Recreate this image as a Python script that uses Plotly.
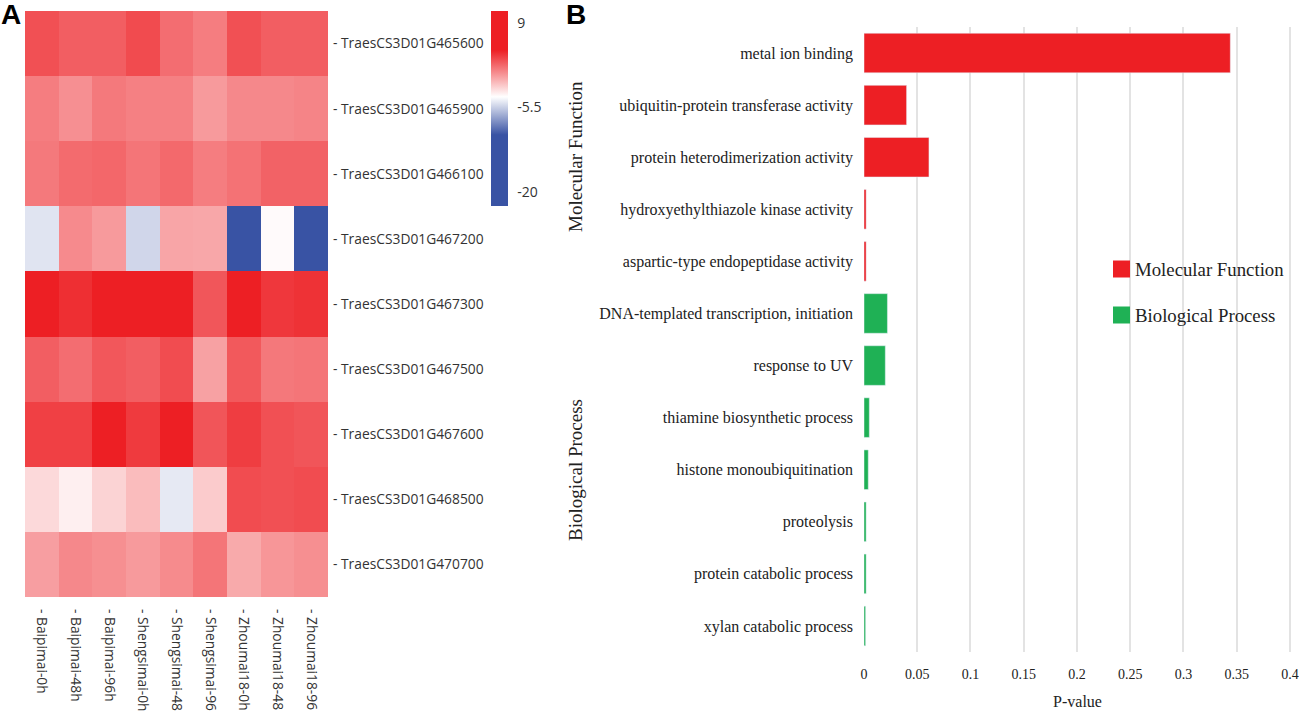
import plotly.graph_objects as go

# ---------- heatmap data (panel A) ----------
genes = ['TraesCS3D01G465600', 'TraesCS3D01G465900', 'TraesCS3D01G466100',
         'TraesCS3D01G467200', 'TraesCS3D01G467300', 'TraesCS3D01G467500',
         'TraesCS3D01G467600', 'TraesCS3D01G468500', 'TraesCS3D01G470700']
samples = ['Baipimai-0h', 'Baipimai-48h', 'Baipimai-96h',
           'Shengsimai-0h', 'Shengsimai-48', 'Shengsimai-96',
           'Zhoumai18-0h', 'Zhoumai18-48', 'Zhoumai18-96']
expr = [
    [2.6, 2.1, 2.1, 2.8, 1.56, 1.0, 2.6, 2.1, 2.1],
    [1.0, 0.35, 1.15, 0.9, 0.9, -0.05, 0.6, 0.6, 0.75],
    [1.15, 1.64, 1.8, 1.3, 1.72, 1.0, 1.4, 1.96, 1.96],
    [-4.7, 0.52, -0.05, -5.2, -0.45, -0.5, -20, -3.5, -20],
    [8.2, 3.8, 9, 8.5, 8.8, 2.4, 9, 3.5, 3.7],
    [2.1, 1.56, 2.36, 2.1, 2.76, -0.3, 2.3, 1.16, 1.3],
    [3.2, 3.2, 6, 3.4, 7, 2.44, 3.3, 2.6, 2.44],
    [-2.3, -3.1, -2.1, -1.25, -4.5, -1.8, 2.76, 2.6, 2.76],
    [-0.2, 0.6, 0.36, -0.05, 0.5, 1.3, -0.6, 0.1, 0.36],
]
cbar_ticks = [9, -5.5, -20]
cbar_labels = ['9', '-5.5', '-20']

# ---------- bar data (panel B) ----------
terms = ['metal ion binding', 'ubiquitin-protein transferase activity',
         'protein heterodimerization activity', 'hydroxyethylthiazole kinase activity',
         'aspartic-type endopeptidase activity', 'DNA-templated transcription, initiation',
         'response to UV', 'thiamine biosynthetic process', 'histone monoubiquitination',
         'proteolysis', 'protein catabolic process', 'xylan catabolic process']
mf_vals = [0.344, 0.04, 0.061, 0.002, 0.002]
bp_vals = [0.022, 0.02, 0.005, 0.004, 0.002, 0.002, 0.0015]
p_ticks = [0, 0.05, 0.1, 0.15, 0.2, 0.25, 0.3, 0.35, 0.4]
p_labels = ['0', '0.05', '0.1', '0.15', '0.2', '0.25', '0.3', '0.35', '0.4']

W, H = 1299, 714
RED = '#ed1f24'
GREEN = '#1fb155'
SERIF = 'Liberation Serif'
SANS = 'Open Sans'

def px(x):
    return x / W

def py(y):
    return 1 - y / H

fig = go.Figure()

# heatmap, colours go blue -> white -> red like the bar on the right
fig.add_trace(go.Heatmap(
    z=expr, x=samples, y=genes, xgap=0, ygap=0,
    zmin=-22.4, zmax=11.06,
    colorscale=[[0, '#3953a4'], [0.365, '#3953a4'], [0.56, '#ffffff'],
                [0.8, RED], [1, RED]],
    colorbar=dict(x=px(491), xanchor='left', y=py(11), yanchor='top', ypad=0, xpad=0,
                  len=195, lenmode='pixels', thickness=17, thicknessmode='pixels',
                  outlinewidth=0, tickvals=cbar_ticks, ticktext=cbar_labels,
                  ticks='outside', ticklen=7, tickcolor='rgba(0,0,0,0)',
                  tickfont=dict(family=SANS, size=14, color='#333333')),
    xaxis='x', yaxis='y',
))

fig.add_trace(go.Bar(x=mf_vals, y=terms[:5], orientation='h', marker_color=RED,
                     width=0.76, name='Molecular Function', xaxis='x2', yaxis='y2',
                     showlegend=False))
fig.add_trace(go.Bar(x=bp_vals, y=terms[5:], orientation='h', marker_color=GREEN,
                     width=0.76, name='Biological Process', xaxis='x2', yaxis='y2',
                     showlegend=False))

fig.update_layout(
    width=W, height=H, margin=dict(l=0, r=0, t=0, b=0, autoexpand=False),
    paper_bgcolor='white', plot_bgcolor='white', bargap=0.24,
    xaxis=dict(domain=[px(25), px(328)], tickangle=90, side='bottom', automargin=False,
               tickmode='array', tickvals=samples, ticktext=['- ' + s for s in samples],
               ticks='', ticklabelstandoff=11,
               tickfont=dict(family=SANS, size=13.8, color='#333333')),
    yaxis=dict(domain=[py(597), py(11)], side='right', autorange='reversed', automargin=False,
               tickmode='array', tickvals=genes, ticktext=['- ' + g for g in genes],
               ticks='', ticklabelstandoff=4,
               tickfont=dict(family=SANS, size=13.8, color='#333333')),
    xaxis2=dict(domain=[px(864), px(1291)], anchor='y2', range=[0, 0.401], automargin=False,
                tickmode='array', tickvals=p_ticks, ticktext=p_labels,
                showgrid=True, gridcolor='#e3e3e3', gridwidth=1.5, zeroline=False,
                showline=False, ticks='', ticklabelstandoff=12, ticklabeloverflow='allow',
                tickfont=dict(family=SERIF, size=14, color='#222222'),
                title=dict(text='P-value', standoff=14,
                           font=dict(family=SERIF, size=16, color='#222222'))),
    yaxis2=dict(domain=[py(652), py(27)], anchor='x2', autorange='reversed', automargin=False,
                categoryorder='array', categoryarray=terms, ticks='', showline=False,
                ticklabelstandoff=10,
                tickfont=dict(family=SERIF, size=16, color='#222222')),
)

# panel letters + rotated group names
for txt, x, y in [('A', 11, 14), ('B', 576, 14)]:
    fig.add_annotation(text=txt, x=px(x), y=py(y), xref='paper', yref='paper', showarrow=False,
                       xanchor='center', yanchor='middle',
                       font=dict(family='Liberation Sans', size=28, color='black', weight='bold'))
for txt, y in [('Molecular Function', 157), ('Biological Process', 470)]:
    fig.add_annotation(text=txt, x=px(575), y=py(y), xref='paper', yref='paper', showarrow=False,
                       xanchor='center', yanchor='middle',
                       textangle=-90, font=dict(family=SERIF, size=19, color='#222222'))

# hand made legend, the gap between entries is wider than plotly's
for txt, col, y in [('Molecular Function', RED, 269), ('Biological Process', GREEN, 315)]:
    fig.add_shape(type='rect', xref='paper', yref='paper', line_width=0, fillcolor=col,
                  x0=px(1113), x1=px(1130), y0=py(y - 8.5), y1=py(y + 8.5))
    fig.add_annotation(text=txt, x=px(1133), y=py(y), xref='paper', yref='paper',
                       xanchor='left', yanchor='middle', showarrow=False,
                       font=dict(family=SERIF, size=18.8, color='#222222'))

# page body has a default 8px margin, drop it so the figure sits at 0,0
fig.write_html("out.html", config={'displayModeBar': False},
               post_script="document.body.style.margin='0';")
